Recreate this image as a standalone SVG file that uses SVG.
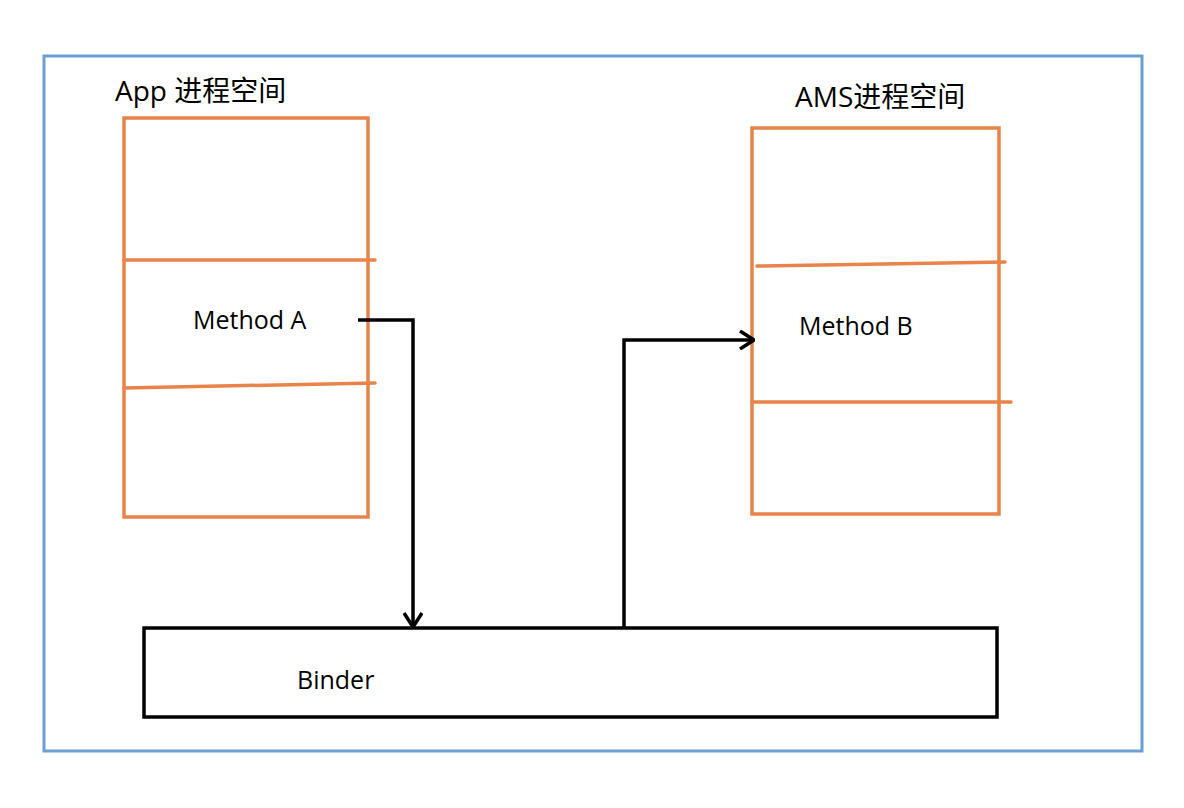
<svg xmlns="http://www.w3.org/2000/svg" width="1184" height="808" viewBox="0 0 1184 808">
<style>
.frame{fill:none;stroke:#6a9fd4;stroke-width:3}
.proc{fill:none;stroke:#e9834a;stroke-width:3.5}
.div{fill:none;stroke:#e9834a;stroke-width:3.5;stroke-linecap:round}
.box{fill:none;stroke:#000;stroke-width:3.5}
.conn{fill:none;stroke:#000;stroke-width:3.5}
.t{font-family:"Open Sans","Noto Sans CJK SC",sans-serif;fill:#000}
</style>
<defs>
<marker id="arr" viewBox="0 0 16 20" refX="15" refY="10" markerWidth="16" markerHeight="20" markerUnits="userSpaceOnUse" orient="auto">
<path d="M1,1 L15,10 L1,19" fill="none" stroke="#000" stroke-width="3.5"/>
</marker>
</defs>
<rect width="1184" height="808" fill="#fff"/>
<rect class="frame" x="44" y="56" width="1098" height="695"/>
<g id="app">
<rect class="proc" x="124" y="118" width="244" height="399"/>
<line class="div" x1="124" y1="260" x2="375" y2="260"/>
<line class="div" x1="124" y1="388" x2="375" y2="383"/>
<text class="t" x="115" y="101" font-size="28">App 进程空间</text>
<text class="t" x="193" y="329" font-size="25">Method A</text>
</g>
<g id="ams">
<rect class="proc" x="752" y="128" width="247" height="386"/>
<line class="div" x1="757" y1="266" x2="1005" y2="262"/>
<line class="div" x1="752" y1="402" x2="1011" y2="402"/>
<text class="t" x="795" y="107" font-size="28">AMS进程空间</text>
<text class="t" x="799" y="335" font-size="25">Method B</text>
</g>
<g id="binder">
<rect class="box" x="144" y="628" width="853" height="89"/>
<text class="t" x="297" y="689" font-size="25">Binder</text>
</g>
<g id="connectors">
<polyline class="conn" points="358,320 413,320 413,627" marker-end="url(#arr)"/>
<polyline class="conn" points="624,628 624,340 754,340" marker-end="url(#arr)"/>
</g>
</svg>
